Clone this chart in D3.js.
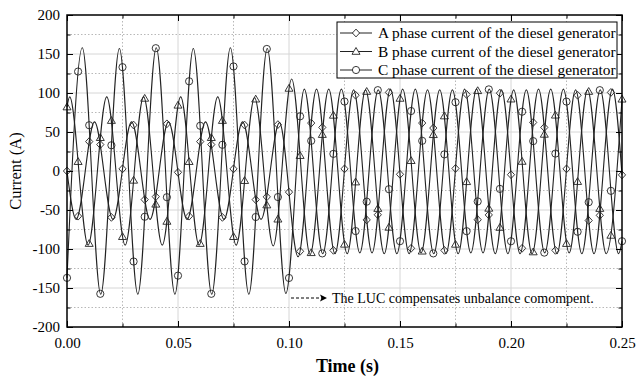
<!DOCTYPE html>
<html>
<head>
<meta charset="utf-8">
<script src="https://cdn.jsdelivr.net/npm/d3@7"></script>
<style>
body { margin: 0; background: #fff; }
text { font-family: "Liberation Serif", "Times New Roman", serif; }
</style>
</head>
<body>
<div id="chart"></div>
<script>
// extrema (time s, current A), per phase
const tA = [0, 0.0041, 0.0124, 0.0207, 0.0291, 0.0374, 0.0457, 0.0541, 0.0624, 0.0707, 0.0791, 0.0874, 0.0957,
    0.1041, 0.1124, 0.1207, 0.1291, 0.1374, 0.1457, 0.1541, 0.1624, 0.1707, 0.1791, 0.1874, 0.1957, 0.2041,
    0.2124, 0.2207, 0.2291, 0.2374, 0.2457, 0.25];
const iA = [0, -62, 63, -62, 63, -62, 63, -62, 63, -62, 63, -62, 62,
    -110, 105, -106, 104, -105, 105, -106, 104, -106, 105, -105, 104, -106,
    105, -106, 104, -106, 105, -5];

const tB = [0, 0.0012, 0.0095, 0.0179, 0.0262, 0.0345, 0.0429, 0.0512, 0.0595, 0.0679, 0.0762, 0.0845, 0.0929,
    0.1012, 0.1095, 0.1179, 0.1262, 0.1345, 0.1429, 0.1512, 0.1595, 0.1679, 0.1762, 0.1845, 0.1929, 0.2012,
    0.2095, 0.2179, 0.2262, 0.2345, 0.2429, 0.25];
const iB = [82, 95, -95, 95, -95, 95, -95, 95, -95, 95, -95, 94, -96,
    118, -107, 105, -106, 104, -106, 105, -105, 104, -106, 105, -106, 104,
    -106, 105, -105, 104, -106, 92];

const tC = [0, 0.0069, 0.0152, 0.0236, 0.0319, 0.0402, 0.0486, 0.0569, 0.0652, 0.0736, 0.0819, 0.0902, 0.0986,
    0.1069, 0.1152, 0.1236, 0.1319, 0.1402, 0.1486, 0.1569, 0.1652, 0.1736, 0.1819, 0.1902, 0.1986, 0.2069,
    0.2152, 0.2236, 0.2319, 0.2402, 0.2485, 0.25];
const iC = [-137, 158, -158, 157, -158, 158, -158, 157, -158, 158, -158, 157, -157,
    105, -106, 105, -105, 104, -106, 105, -106, 104, -105, 105, -106, 104,
    -105, 105, -106, 104, -106, -90];

const seriesNames = ['A phase current of the diesel generator',
                     'B phase current of the diesel generator',
                     'C phase current of the diesel generator'];
const seriesSymbols = ['diamond', 'triangle', 'circle'];

const xTicks = [0, 0.05, 0.10, 0.15, 0.20, 0.25];
const xMinor = [0.025, 0.075, 0.125, 0.175, 0.225];
const yTicks = [-200, -150, -100, -50, 0, 50, 100, 150, 200];
const yMinor = [-175, -125, -75, -25, 25, 75, 125, 175];
const markerStep = 0.005;

const width = 636, height = 378;
const margin = {top: 15, right: 14, bottom: 51, left: 67};

const x = d3.scaleLinear().domain([0, 0.25]).range([margin.left, width - margin.right]);
const y = d3.scaleLinear().domain([-200, 200]).range([height - margin.bottom, margin.top]);

const svg = d3.select('#chart').append('svg')
    .attr('width', width)
    .attr('height', height);

// grid
const grid = svg.append('g');
grid.selectAll('.gx').data(xMinor).enter().append('line')
    .attr('x1', d => x(d)).attr('x2', d => x(d))
    .attr('y1', y(-200)).attr('y2', y(200))
    .attr('stroke', '#b8b8b8').attr('stroke-dasharray', '1.5,2');
grid.selectAll('.gy').data(yMinor).enter().append('line')
    .attr('x1', x(0)).attr('x2', x(0.25))
    .attr('y1', d => y(d)).attr('y2', d => y(d))
    .attr('stroke', '#b8b8b8').attr('stroke-dasharray', '1.5,2');
grid.selectAll('.Gx').data(xTicks.slice(1, -1)).enter().append('line')
    .attr('x1', d => x(d)).attr('x2', d => x(d))
    .attr('y1', y(-200)).attr('y2', y(200))
    .attr('stroke', '#d6d6d6');
grid.selectAll('.Gy').data(yTicks.slice(1, -1)).enter().append('line')
    .attr('x1', x(0)).attr('x2', x(0.25))
    .attr('y1', d => y(d)).attr('y2', d => y(d))
    .attr('stroke', '#d6d6d6');

// curves
const line = d3.line().x(d => x(d[0])).y(d => y(d[1])).curve(d3.curveMonotoneX);
const series = [d3.zip(tA, iA), d3.zip(tB, iB), d3.zip(tC, iC)];

const paths = series.map(s => svg.append('path')
    .datum(s)
    .attr('d', line)
    .attr('fill', 'none')
    .attr('stroke', '#222')
    .attr('stroke-width', 1.1));

function symbolPath(kind) {
    if (kind === 'diamond') return 'M0,-3.9L3.6,0L0,3.9L-3.6,0Z';
    if (kind === 'triangle') return 'M0,-4L4,2.8L-4,2.8Z';
    return d3.arc()({innerRadius: 0, outerRadius: 3.6, startAngle: 0, endAngle: 2 * Math.PI});
}

function yOnPath(node, px) {
    let lo = 0, hi = node.getTotalLength();
    for (let i = 0; i < 40; i++) {
        const mid = (lo + hi) / 2;
        if (node.getPointAtLength(mid).x < px) lo = mid; else hi = mid;
    }
    return node.getPointAtLength((lo + hi) / 2).y;
}

const markerT = d3.range(0, 0.25 + 1e-9, markerStep);
paths.forEach((p, k) => {
    const node = p.node();
    svg.append('g').selectAll('path').data(markerT).enter().append('path')
        .attr('d', symbolPath(seriesSymbols[k]))
        .attr('transform', d => 'translate(' + x(d) + ',' + yOnPath(node, x(d)) + ')')
        .attr('fill', 'none')
        .attr('stroke', '#222')
        .attr('stroke-width', 0.9);
});

// axes
function styleAxis(g) {
    g.select('.domain').remove();
    g.attr('font-family', '"Liberation Serif", "Times New Roman", serif')
     .attr('font-size', 15);
    g.selectAll('text').attr('fill', '#000');
    g.selectAll('line').attr('stroke', '#000');
}

const bottom = height - margin.bottom;
svg.append('g').attr('transform', 'translate(0,' + bottom + ')')
    .call(d3.axisBottom(x).tickValues(xTicks).tickSizeInner(-6).tickSizeOuter(0)
        .tickPadding(10).tickFormat(d3.format('.2f')))
    .call(styleAxis);
svg.append('g').attr('transform', 'translate(0,' + bottom + ')')
    .call(d3.axisBottom(x).tickValues(xMinor).tickSizeInner(-3.5).tickSizeOuter(0).tickFormat(''))
    .call(styleAxis);
svg.append('g').attr('transform', 'translate(0,' + margin.top + ')')
    .call(d3.axisTop(x).tickValues(xTicks).tickSizeInner(-6).tickSizeOuter(0).tickFormat(''))
    .call(styleAxis);
svg.append('g').attr('transform', 'translate(0,' + margin.top + ')')
    .call(d3.axisTop(x).tickValues(xMinor).tickSizeInner(-3.5).tickSizeOuter(0).tickFormat(''))
    .call(styleAxis);

svg.append('g').attr('transform', 'translate(' + margin.left + ',0)')
    .call(d3.axisLeft(y).tickValues(yTicks).tickSizeInner(-6).tickSizeOuter(0)
        .tickPadding(7).tickFormat(d => String(d)))
    .call(styleAxis);
svg.append('g').attr('transform', 'translate(' + margin.left + ',0)')
    .call(d3.axisLeft(y).tickValues(yMinor).tickSizeInner(-3.5).tickSizeOuter(0).tickFormat(''))
    .call(styleAxis);
svg.append('g').attr('transform', 'translate(' + (width - margin.right) + ',0)')
    .call(d3.axisRight(y).tickValues(yTicks).tickSizeInner(-6).tickSizeOuter(0).tickFormat(''))
    .call(styleAxis);
svg.append('g').attr('transform', 'translate(' + (width - margin.right) + ',0)')
    .call(d3.axisRight(y).tickValues(yMinor).tickSizeInner(-3.5).tickSizeOuter(0).tickFormat(''))
    .call(styleAxis);

// frame
svg.append('rect')
    .attr('x', x(0)).attr('y', y(200))
    .attr('width', x(0.25) - x(0)).attr('height', y(-200) - y(200))
    .attr('fill', 'none').attr('stroke', '#000').attr('stroke-width', 1.5);

// axis titles
svg.append('text')
    .attr('x', (x(0) + x(0.25)) / 2 + 3)
    .attr('y', 372)
    .attr('text-anchor', 'middle')
    .attr('font-size', 18)
    .attr('font-weight', 'bold')
    .text('Time (s)');
svg.append('text')
    .attr('transform', 'translate(21,' + y(0) + ') rotate(-90)')
    .attr('text-anchor', 'middle')
    .attr('font-size', 16.5)
    .text('Current (A)');

// legend
const legend = svg.append('g');
legend.append('rect')
    .attr('x', 337).attr('y', 22).attr('width', 280).attr('height', 56)
    .attr('fill', '#fff').attr('stroke', '#000').attr('stroke-width', 1);
seriesNames.forEach((name, k) => {
    const ly = 33 + k * 18.5;
    legend.append('line')
        .attr('x1', 340).attr('x2', 372).attr('y1', ly).attr('y2', ly)
        .attr('stroke', '#222');
    legend.append('path')
        .attr('d', symbolPath(seriesSymbols[k]))
        .attr('transform', 'translate(356,' + ly + ')')
        .attr('fill', '#fff').attr('stroke', '#222').attr('stroke-width', 0.9);
    legend.append('text')
        .attr('x', 378).attr('y', ly).attr('dy', '0.35em')
        .attr('font-size', 15.4)
        .text(name);
});

// annotation
svg.append('line')
    .attr('x1', x(0.1) + 2).attr('x2', 322).attr('y1', 298).attr('y2', 298)
    .attr('stroke', '#000').attr('stroke-dasharray', '3,2');
svg.append('path')
    .attr('d', 'M320,294.5L327,298L320,301.5L321.5,298Z')
    .attr('fill', '#000');
svg.append('text')
    .attr('x', 332).attr('y', 298).attr('dy', '0.35em')
    .attr('font-size', 14)
    .text('The LUC compensates unbalance comompent.');
</script>
</body>
</html>
